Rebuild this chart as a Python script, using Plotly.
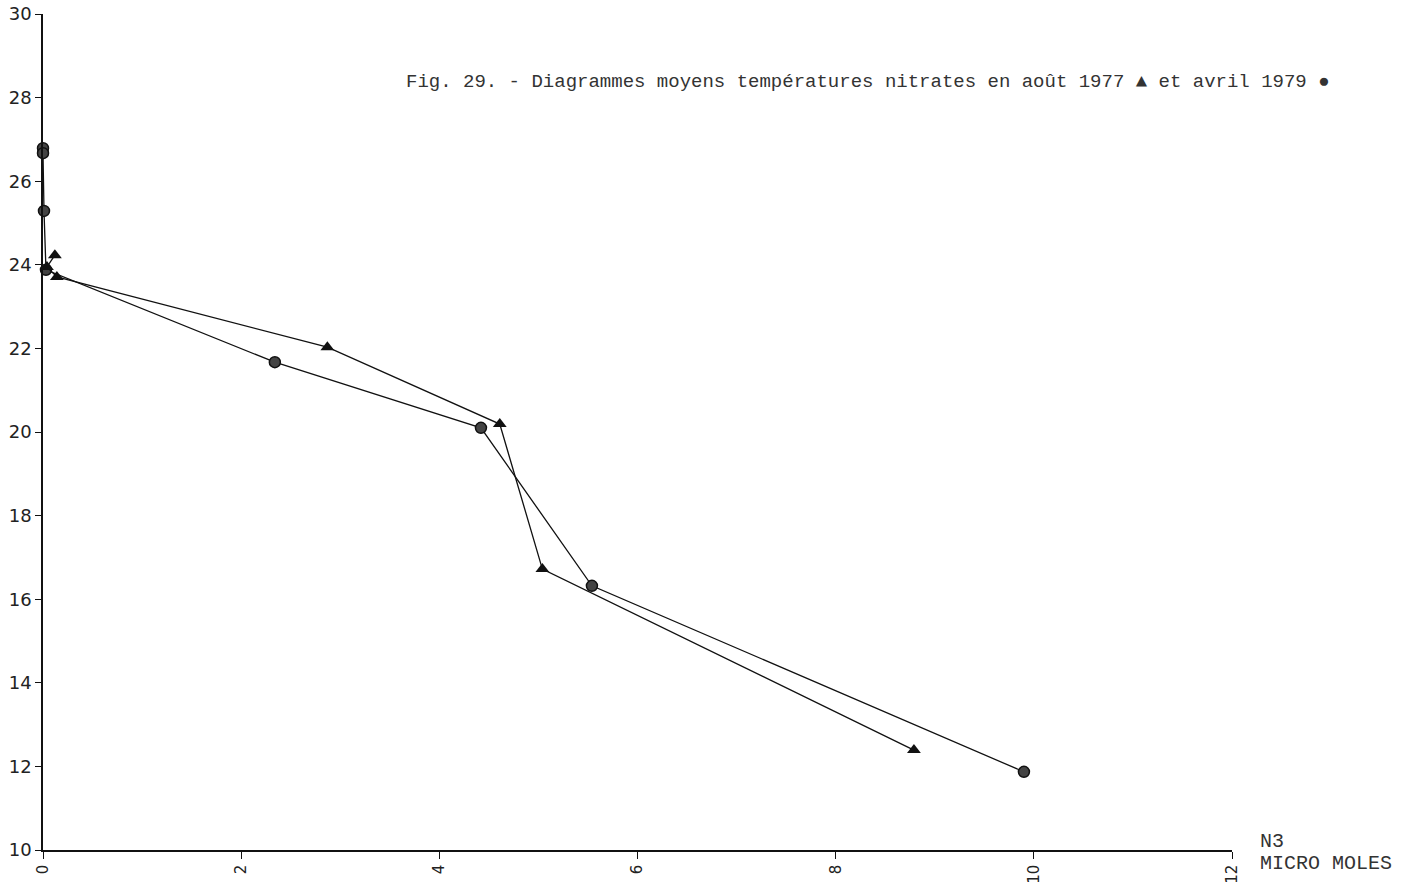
import plotly.graph_objects as go

# Avril 1979 (circles)
x_1979 = [0.0, 0.0, 0.01, 0.03, 2.34, 4.42, 5.54, 9.90]
y_1979 = [26.79, 26.67, 25.29, 23.88, 21.67, 20.10, 16.32, 11.87]

# Août 1977 (triangles)
x_1977 = [0.12, 0.04, 0.14, 2.87, 4.61, 5.04, 8.79]
y_1977 = [24.23, 23.95, 23.71, 22.03, 20.19, 16.72, 12.39]

x_ticks = [0, 2, 4, 6, 8, 10, 12]
y_ticks = [10, 12, 14, 16, 18, 20, 22, 24, 26, 28, 30]

title_text = "Fig. 29. - Diagrammes moyens températures nitrates en août 1977 ▲ et avril 1979 ●"

fig = go.Figure()
fig.add_trace(go.Scatter(
    x=x_1979, y=y_1979, mode="lines+markers",
    line=dict(color="#111", width=1.3),
    marker=dict(symbol="circle", size=11, color="#444", line=dict(color="#111", width=1.5)),
    showlegend=False, cliponaxis=False))
fig.add_trace(go.Scatter(
    x=x_1977, y=y_1977, mode="lines+markers",
    line=dict(color="#111", width=1.3),
    marker=dict(symbol="triangle-up", size=12, color="#111"),
    showlegend=False, cliponaxis=False))

axis_font = dict(family="DejaVu Sans, Liberation Sans, sans-serif", size=18, color="#222")
fig.update_layout(
    width=1406, height=888,
    margin=dict(l=43, r=174, t=14, b=38, autoexpand=False),
    paper_bgcolor="white", plot_bgcolor="white",
    xaxis=dict(range=[0, 12], tickvals=x_ticks, ticktext=[str(v) for v in x_ticks],
               tickangle=-90, ticks="outside", ticklen=7, tickwidth=1.2, tickcolor="#111",
               showline=True, linecolor="#111", linewidth=1.5, showgrid=False, zeroline=False,
               automargin=False,
               tickfont=dict(family="DejaVu Sans, sans-serif", size=15, color="#222")),
    yaxis=dict(range=[10, 30], tickvals=y_ticks, ticktext=[str(v) for v in y_ticks],
               ticks="outside", ticklen=6, tickwidth=1.2, tickcolor="#111",
               showline=True, linecolor="#111", linewidth=1.5, showgrid=False, zeroline=False,
               automargin=False, tickfont=axis_font),
    annotations=[
        dict(text=title_text, xref="paper", yref="paper", x=0.6935, y=0.9187,
             xanchor="center", yanchor="middle", showarrow=False,
             font=dict(family="Liberation Mono, DejaVu Sans Mono, monospace", size=19, color="#333")),
        dict(text="N3", xref="paper", yref="paper", x=1.0219, y=0.0096,
             xanchor="left", yanchor="middle", align="left", showarrow=False,
             font=dict(family="Liberation Mono, DejaVu Sans Mono, monospace", size=20, color="#333")),
        dict(text="MICRO MOLES", xref="paper", yref="paper", x=1.0219, y=-0.0167,
             xanchor="left", yanchor="middle", align="left", showarrow=False,
             font=dict(family="Liberation Mono, DejaVu Sans Mono, monospace", size=20, color="#333")),
    ],
)

fig.write_html("out.html", config={"displayModeBar": False},
               post_script="document.body.style.margin='0';document.body.style.padding='0';")
